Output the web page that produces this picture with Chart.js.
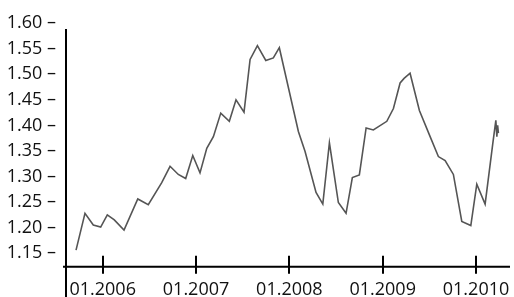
<!DOCTYPE html>
<html>
<head>
<meta charset="utf-8">
<script src="https://cdn.jsdelivr.net/npm/chart.js@4"></script>
<style>
  html, body { margin: 0; padding: 0; background: #fff; }
  #wrap { width: 514px; height: 297px; }
</style>
</head>
<body>
<div id="wrap"><canvas id="rate" width="514" height="297"></canvas></div>
<script>
// months counted from 01.2006 (0 = Jan 2006)
const months = [
  -3.43, -2.28, -1.21, -0.26, 0.59, 1.49, 2.74, 4.51, 5.86, 7.59,
  8.66, 9.72, 10.67, 11.58, 12.51, 13.38, 14.23, 15.18, 16.28, 17.14,
  18.17, 18.95, 19.89, 20.97, 21.94, 22.71, 25.16, 26.02, 27.43, 28.30,
  29.15, 30.30, 31.29, 32.10, 33.00, 33.87, 34.80, 36.53, 37.38, 38.24,
  38.75, 39.52, 40.72, 42.10, 43.16, 44.03, 45.09, 46.17, 47.33, 48.10,
  49.17, 50.16, 50.55, 50.68, 50.78, 50.88
];
const rates = [
  1.156, 1.228, 1.205, 1.201, 1.225, 1.215, 1.195, 1.256, 1.245, 1.288,
  1.320, 1.304, 1.296, 1.341, 1.307, 1.355, 1.378, 1.424, 1.408, 1.450,
  1.426, 1.529, 1.556, 1.527, 1.532, 1.552, 1.388, 1.349, 1.269, 1.246,
  1.366, 1.249, 1.228, 1.298, 1.303, 1.395, 1.391, 1.408, 1.433, 1.483,
  1.492, 1.502, 1.429, 1.378, 1.339, 1.331, 1.304, 1.212, 1.204, 1.285,
  1.246, 1.365, 1.410, 1.378, 1.400, 1.385
];
const yTicks = [1.15, 1.20, 1.25, 1.30, 1.35, 1.40, 1.45, 1.50, 1.55, 1.60];
const xTicks = [0, 12, 24, 36, 48];
const startYear = 2006;

const points = months.map((m, i) => ({ x: m, y: rates[i] }));

// hand drawn looking axes: y line runs past the x axis, ticks cross the x axis
const axesPlugin = {
  id: 'axes',
  afterDraw(chart) {
    const { ctx, chartArea } = chart;
    const xs = chart.scales.x;
    ctx.save();
    ctx.strokeStyle = '#000';
    ctx.lineWidth = 2;
    ctx.beginPath();
    ctx.moveTo(chartArea.left, 29);
    ctx.lineTo(chartArea.left, chart.height);
    ctx.moveTo(chartArea.left - 3, chartArea.bottom);
    ctx.lineTo(chartArea.right, chartArea.bottom);
    xTicks.forEach(v => {
      const px = Math.round(xs.getPixelForValue(v));
      ctx.moveTo(px, chartArea.bottom - 11);
      ctx.lineTo(px, chartArea.bottom + 7);
    });
    ctx.stroke();
    ctx.restore();
  }
};

new Chart(document.getElementById('rate'), {
  type: 'line',
  data: {
    datasets: [{
      data: points,
      borderColor: '#555',
      borderWidth: 1.6,
      pointRadius: 0,
      tension: 0,
      fill: false
    }]
  },
  options: {
    responsive: false,
    animation: false,
    layout: { padding: { top: 10, right: 4, left: 0, bottom: 0 } },
    plugins: { legend: { display: false }, tooltip: { enabled: false } },
    scales: {
      x: {
        type: 'linear',
        min: -4.72,
        max: 52.37,
        grid: { display: false },
        border: { display: false },
        afterBuildTicks: s => { s.ticks = xTicks.map(v => ({ value: v })); },
        afterFit: s => { s.height = 30.3; },
        ticks: {
          padding: 4,
          maxRotation: 0,
          autoSkip: false,
          color: '#111',
          font: { family: 'Open Sans', size: 18 },
          callback: v => '01.' + (startYear + v / 12)
        }
      },
      y: {
        min: 1.1235,
        max: 1.6203,
        grid: { display: false },
        border: { display: false },
        afterBuildTicks: s => { s.ticks = yTicks.map(v => ({ value: v })); },
        afterFit: s => { s.width = 66; },
        ticks: {
          padding: 2,
          color: '#111',
          font: { family: 'Open Sans', size: 18 },
          callback: v => v.toFixed(2) + ' \u2013'
        }
      }
    }
  },
  plugins: [axesPlugin]
});
</script>
</body>
</html>
